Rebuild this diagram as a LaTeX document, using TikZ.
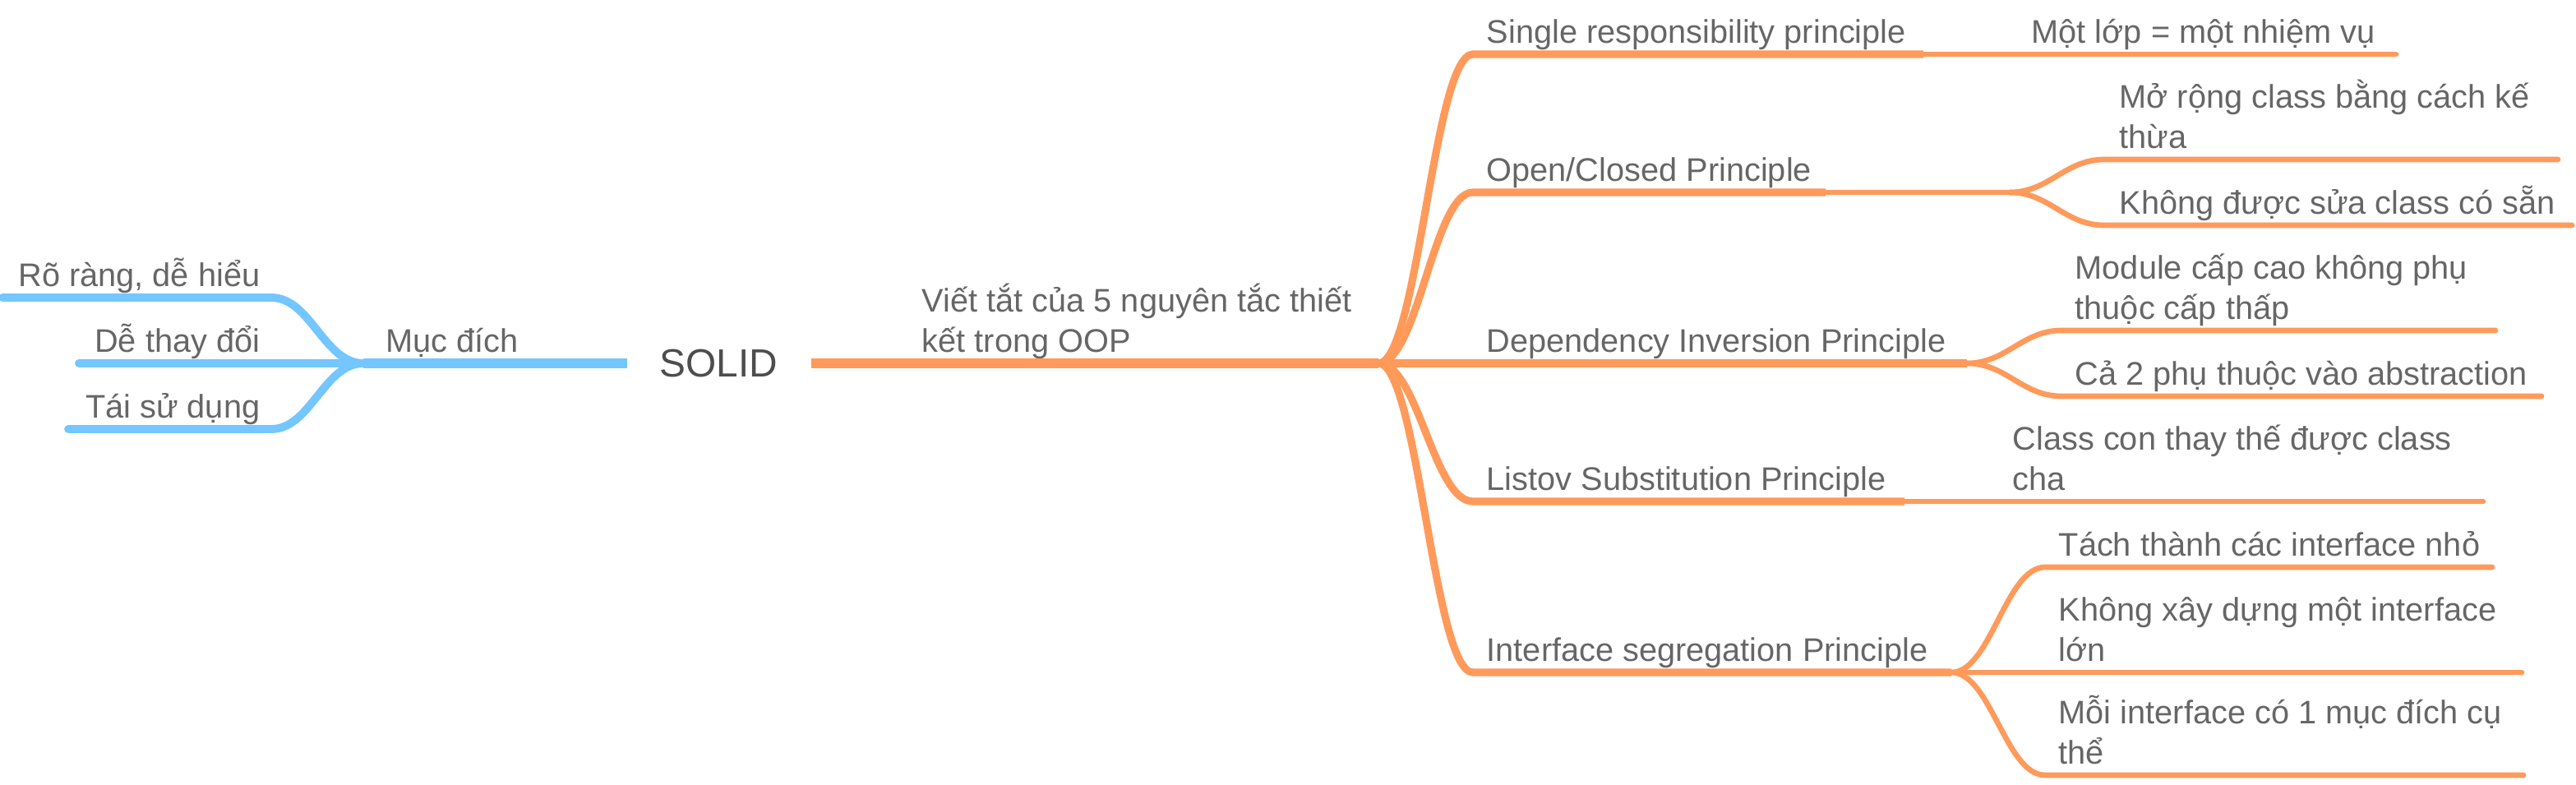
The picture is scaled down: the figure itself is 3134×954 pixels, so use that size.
\documentclass[tikz,border=0pt]{standalone}
\usepackage{fontspec}
\setmainfont{Liberation Sans}
\definecolor{orng}{HTML}{FF9A5B}
\definecolor{sky}{HTML}{73C6FF}
\definecolor{txtgray}{HTML}{666666}
\definecolor{rootgray}{HTML}{4D4D4D}
\begin{document}
\begin{tikzpicture}[x=0.01cm, y=-0.01cm,
  topic/.style={inner sep=0pt, text=txtgray, font=\fontsize{11.3}{13.7}\selectfont, align=left, anchor=base west},
  lefttopic/.style={topic, align=right, anchor=base east},
  root/.style={inner sep=0pt, text=rootgray, font=\fontsize{13.6}{16}\selectfont, anchor=base},
  lvlone/.style={line width=3.4pt, line cap=butt},
  lvltwo/.style={line width=2.6pt, line cap=butt},
  lvlthree/.style={line width=1.9pt, line cap=round},
  leftkid/.style={line width=2.8pt, line cap=round}]
\useasboundingbox (0,0) rectangle (3134,954);
% texts (two-line texts sit on the baseline of their last line)
\node[root] (solid) at (874.5,458) {SOLID};
\node[lefttopic] (goal) at (631,428) {Mục đích};
\node[lefttopic] (clear) at (317,348) {Rõ ràng, dễ hiểu};
\node[lefttopic] (change) at (317,428) {Dễ thay đổi};
\node[lefttopic] (reuse) at (317,508) {Tái sử dụng};
\node[topic] (abbr) at (1121,428) {Viết tắt của 5 nguyên tắc thiết\\kết trong OOP};
\node[topic] (srp) at (1808,52) {Single responsibility principle};
\node[topic] (ocp) at (1808,220) {Open/Closed Principle};
\node[topic] (dip) at (1808,428) {Dependency Inversion Principle};
\node[topic] (lsp) at (1808,596) {Listov Substitution Principle};
\node[topic] (isp) at (1808,804) {Interface segregation Principle};
\node[topic] (srp1) at (2471,52) {Một lớp = một nhiệm vụ};
\node[topic] (ocp1) at (2578,180) {Mở rộng class bằng cách kế\\thừa};
\node[topic] (ocp2) at (2578,260) {Không được sửa class có sẵn};
\node[topic] (dip1) at (2524,388) {Module cấp cao không phụ\\thuộc cấp thấp};
\node[topic] (dip2) at (2524,468) {Cả 2 phụ thuộc vào abstraction};
\node[topic] (lsp1) at (2448,596) {Class con thay thế được class\\cha};
\node[topic] (isp1) at (2504,676) {Tách thành các interface nhỏ};
\node[topic] (isp2) at (2504,804) {Không xây dựng một interface\\lớn};
\node[topic] (isp3) at (2504,929) {Mỗi interface có 1 mục đích cụ\\thể};
% line ends
\coordinate (solid-l) at (763,442);
\coordinate (jl) at (442,442);
\coordinate (clear-a) at (330,362);
\coordinate (clear-b) at (3,362);
\coordinate (change-b) at (96,442);
\coordinate (reuse-a) at (330,522);
\coordinate (reuse-b) at (83,522);
\coordinate (solid-r) at (987,442);
\coordinate (jr) at (1677,442);
\coordinate (srp-a) at (1792,66);
\coordinate (srp-b) at (2340,66);
\coordinate (srp1-b) at (2915,66);
\coordinate (ocp-a) at (1792,234);
\coordinate (ocp-b) at (2221,234);
\coordinate (fo) at (2445,234);
\coordinate (ocp1-a) at (2560,194);
\coordinate (ocp1-b) at (3112,194);
\coordinate (ocp2-a) at (2560,274);
\coordinate (ocp2-b) at (3129,274);
\coordinate (fd) at (2393,442);
\coordinate (dip1-a) at (2508,402);
\coordinate (dip1-b) at (3036,402);
\coordinate (dip2-a) at (2508,482);
\coordinate (dip2-b) at (3092,482);
\coordinate (lsp-a) at (1792,610);
\coordinate (lsp-b) at (2317,610);
\coordinate (lsp1-b) at (3021,610);
\coordinate (isp-a) at (1792,818);
\coordinate (fi) at (2374,818);
\coordinate (isp1-a) at (2488,690);
\coordinate (isp1-b) at (3032,690);
\coordinate (isp2-b) at (3068,818);
\coordinate (isp3-a) at (2488,943);
\coordinate (isp3-b) at (3070,943);
% left side
\begin{scope}[draw=sky]
\draw[leftkid] (jl) .. controls +(-48,0) and +(48,0) .. (clear-a) -- (clear-b);
\draw[leftkid] (jl) -- (change-b);
\draw[leftkid] (jl) .. controls +(-48,0) and +(48,0) .. (reuse-a) -- (reuse-b);
\draw[lvlone] (solid-l) -- (jl);
\end{scope}
% right side
\begin{scope}[draw=orng]
\draw[lvlthree] (srp-b) -- (srp1-b);
\draw[lvlthree] (ocp-b) -- (fo);
\draw[lvlthree] (fo) .. controls +(48,0) and +(-48,0) .. (ocp1-a) -- (ocp1-b);
\draw[lvlthree] (fo) .. controls +(48,0) and +(-48,0) .. (ocp2-a) -- (ocp2-b);
\draw[lvlthree] (fd) .. controls +(48,0) and +(-48,0) .. (dip1-a) -- (dip1-b);
\draw[lvlthree] (fd) .. controls +(48,0) and +(-48,0) .. (dip2-a) -- (dip2-b);
\draw[lvlthree] (lsp-b) -- (lsp1-b);
\draw[lvlthree] (fi) .. controls +(48,0) and +(-48,0) .. (isp1-a) -- (isp1-b);
\draw[lvlthree] (fi) -- (isp2-b);
\draw[lvlthree] (fi) .. controls +(48,0) and +(-48,0) .. (isp3-a) -- (isp3-b);
\draw[lvltwo] (jr) .. controls +(48,0) and +(-48,0) .. (srp-a) -- (srp-b);
\draw[lvltwo] (jr) .. controls +(48,0) and +(-48,0) .. (ocp-a) -- (ocp-b);
\draw[lvltwo] (jr) -- (fd);
\draw[lvltwo] (jr) .. controls +(48,0) and +(-48,0) .. (lsp-a) -- (lsp-b);
\draw[lvltwo] (jr) .. controls +(48,0) and +(-48,0) .. (isp-a) -- (fi);
\draw[lvlone] (solid-r) -- (jr);
\end{scope}
\end{tikzpicture}
\end{document}
